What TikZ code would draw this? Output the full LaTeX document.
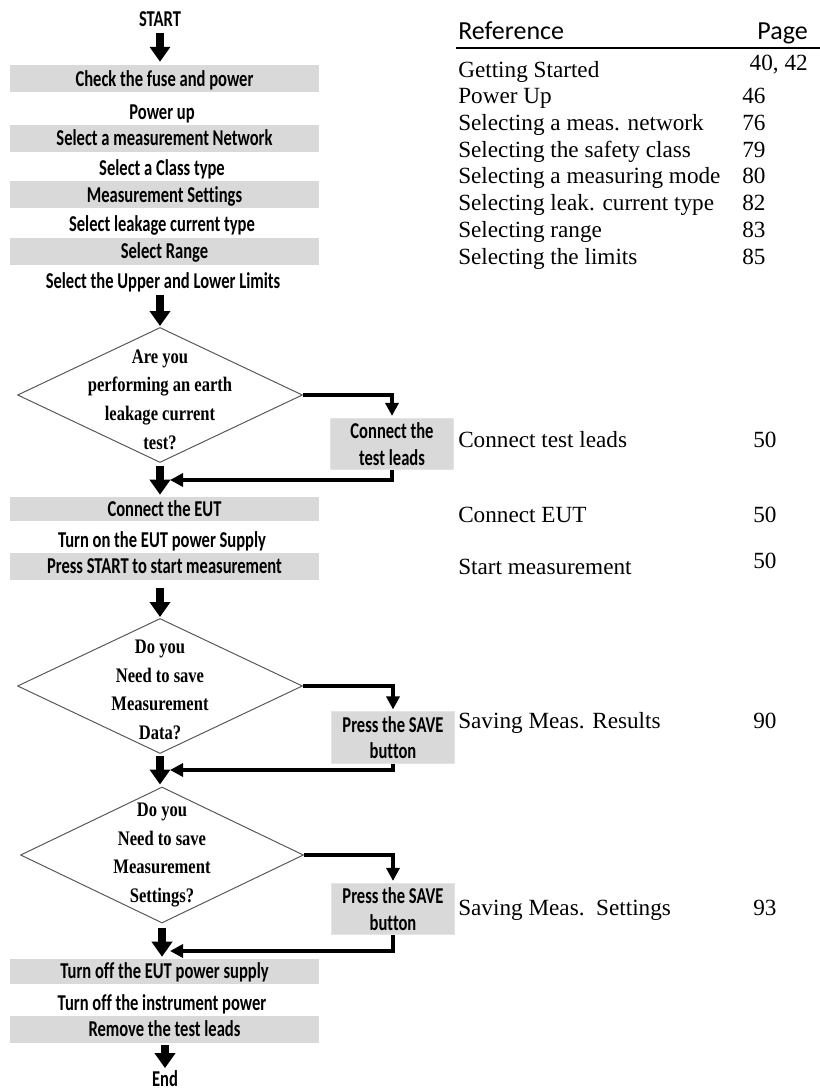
\documentclass[tikz,border=0pt]{standalone}
\usepackage{fontspec}
\usetikzlibrary{shapes.geometric,arrows.meta}
\newfontfamily\fcfont[FakeStretch=0.73,Ligatures=CommonOff]{Carlito}
\newfontfamily\dmfont[FakeStretch=0.8]{Liberation Serif}
\newfontfamily\tbfont{Liberation Serif}
\newfontfamily\hdfont{Carlito}
\definecolor{barg}{HTML}{D9D9D9}
\definecolor{dline}{HTML}{595959}
\begin{document}
\begin{tikzpicture}[x=0.75pt,y=-0.75pt,
  ft/.style={font=\fcfont\bfseries\fontsize{17}{19}\selectfont, inner sep=0pt, text height=10.9pt, text depth=0pt},
  bar/.style={ft, fill=barg, minimum width=231.75pt, minimum height=20.25pt},
  sbox/.style={font=\fcfont\bfseries\fontsize{17}{20}\selectfont, inner sep=0pt, align=center, fill=barg, draw=barg!70!white, line width=0.6pt, minimum width=92pt, minimum height=38.5pt},
  dia/.style={diamond, draw=dline, line width=0.75pt, minimum width=213.75pt, minimum height=101.25pt, inner sep=0pt},
  dt/.style={font=\dmfont\bfseries\fontsize{15.5}{21.5}\selectfont, align=center, inner sep=0pt},
  blk/.style={line width=6pt, -{Triangle[width=15pt,length=11.25pt]}},
  conn/.style={line width=3pt, -{Triangle[width=9.75pt,length=9.75pt]}},
  hd/.style={font=\hdfont\fontsize{19.5}{21}\selectfont, inner sep=0pt, text height=12.6pt, text depth=0pt},
  tb/.style={font=\tbfont\fontsize{17.4}{19}\selectfont, inner sep=0pt, text height=11.5pt, text depth=0pt, anchor=west},
]
\useasboundingbox (0,0) rectangle (820,1091);

% ---- flow chart, upper part
\node[ft] (start) at (160,19) {START};
\node[bar] (b1) at (164.5,79) {Check the fuse and power};
\node[ft] (pu) at (162,112) {Power up};
\node[bar] (b2) at (164.5,138.5) {Select a measurement Network};
\node[ft] (ct) at (162,168) {Select a Class type};
\node[bar] (b3) at (164.5,195) {Measurement Settings};
\node[ft] (lt) at (162,224) {Select leakage current type};
\node[bar] (b4) at (164.5,251.5) {Select Range};
\node[ft] (ul) at (163,281) {Select the Upper and Lower Limits};

\node[dia] (d1) at (160,395) {};
\node[dt] (t1) at (160,399.5) {Are you\\performing an earth\\leakage current\\test?};
\node[sbox] (s1) at (392,444) {Connect the\\test leads};
\coordinate (j1) at (170,480);

\node[bar, minimum height=18pt] (b5) at (164.5,509) {Connect the EUT};
\node[ft] (on) at (162,540) {Turn on the EUT power Supply};
\node[bar] (b6) at (164.5,566.5) {Press START to start measurement};

\node[dia] (d2) at (160,686) {};
\node[dt] (t2) at (160,690) {Do you\\Need to save\\Measurement\\Data?};
\node[sbox] (s2) at (393,737.5) {Press the SAVE\\button};
\coordinate (j2) at (170,770);

\node[dia, minimum width=212.25pt, minimum height=102pt] (d3) at (162,855) {};
\node[dt] (t3) at (162,855) {Do you\\Need to save\\Measurement\\Settings?};
\node[sbox] (s3) at (393,909) {Press the SAVE\\button};
\coordinate (j3) at (170,951);

\node[bar, minimum height=18.75pt] (b7) at (164.5,971.5) {Turn off the EUT power supply};
\node[ft] (off) at (162,1003) {Turn off the instrument power};
\node[bar] (b8) at (164.5,1029.5) {Remove the test leads};
\node[ft] (end) at (165,1079) {End};

% ---- block arrows
\draw[blk, shorten <=5pt, shorten >=2.6pt] (start.south) -- (start.south |- b1.north);
\draw[blk, shorten <=5pt, shorten >=0.75pt] (d1.north |- ul.south) -- (d1.north);
\draw[blk, shorten <=1.9pt, shorten >=1.5pt] (d1.south) -- (d1.south |- b5.north);
\draw[blk, shorten <=6pt, shorten >=0.75pt] (d2.north |- b6.south) -- (d2.north);
\draw[blk, shorten <=1.5pt, shorten >=1.5pt] (d2.south) -- (d2.south |- d3.north);
\draw[blk, shorten <=3pt, shorten >=1.5pt] (d3.south) -- (d3.south |- b7.north);
\draw[blk, shorten <=1.5pt, shorten >=2.5pt] (end.north |- b8.south) -- (end.north);

% ---- side branches
\draw[conn, shorten >=1.5pt] (d1.east) -| (s1.north);
\draw[conn] (s1.south) |- (j1);
\draw[conn, shorten >=1.5pt] (d2.east) -| (s2.north);
\draw[conn] (s2.south) |- (j2);
\draw[conn, shorten >=1.5pt] (d3.east) -| (s3.north);
\draw[conn] (s3.south) |- (j3);

% ---- reference table
\node[hd, anchor=west] (hr) at (458,31) {Reference};
\node[hd, anchor=east] (hp) at (808,31) {Page};
\draw[line width=1.5pt] (456,48) -- (820,48);

\node[tb] (r1) at (458,70) {Getting Started};
\node[tb, anchor=east] (p1) at (808,63) {40, 42};
\node[tb] (r2) at (458,96) {Power Up};
\node[tb] (p2) at (742,96) {46};
\node[tb] (r3) at (458,123) {Selecting a meas. network};
\node[tb] (p3) at (742,123) {76};
\node[tb] (r4) at (458,150) {Selecting the safety class};
\node[tb] (p4) at (742,150) {79};
\node[tb] (r5) at (458,176) {Selecting a measuring mode};
\node[tb] (p5) at (742,176) {80};
\node[tb] (r6) at (458,203) {Selecting leak. current type};
\node[tb] (p6) at (742,203) {82};
\node[tb] (r7) at (458,230) {Selecting range};
\node[tb] (p7) at (742,230) {83};
\node[tb] (r8) at (458,257) {Selecting the limits};
\node[tb] (p8) at (742,257) {85};

\node[tb] (r9) at (458,440) {Connect test leads};
\node[tb] (p9) at (753,440) {50};
\node[tb] (r10) at (458,515) {Connect EUT};
\node[tb] (p10) at (753,515) {50};
\node[tb] (r11) at (458,567) {Start measurement};
\node[tb] (p11) at (753,561) {50};
\node[tb] (r12) at (458,721) {Saving Meas. Results};
\node[tb] (p12) at (753,721) {90};
\node[tb] (r13) at (458,908) {Saving Meas.\ \ Settings};
\node[tb] (p13) at (753,908) {93};
\end{tikzpicture}
\end{document}
